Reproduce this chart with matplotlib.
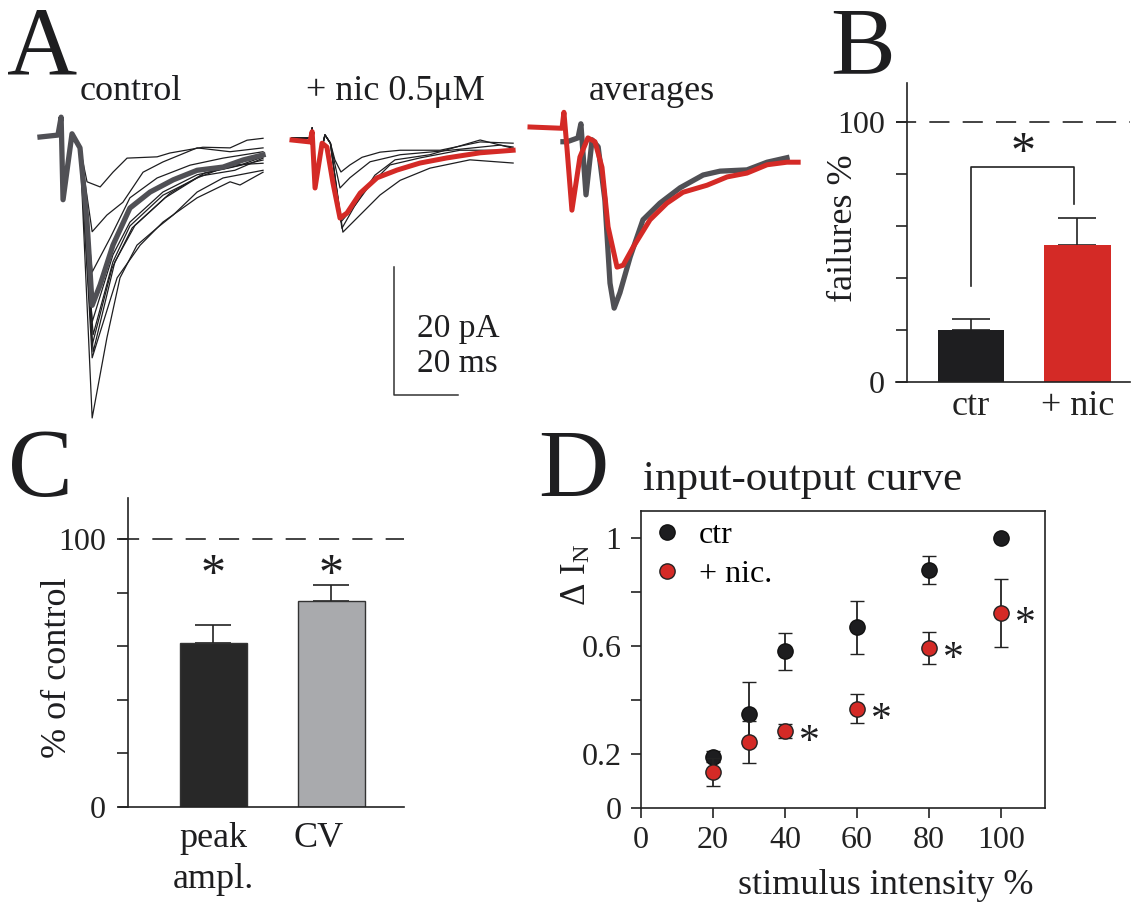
import matplotlib
matplotlib.use('Agg')
import matplotlib.pyplot as plt
from matplotlib.lines import Line2D

plt.rcParams['font.family'] = ['Liberation Serif', 'DejaVu Serif']
plt.rcParams['mathtext.fontset'] = 'stix'
plt.rcParams['lines.scale_dashes'] = False

# ======================= DATA =======================
# ---- Panel A: sweeps, time (ms) and current (pA) relative to sweep start / baseline
CTRL_ONSET_T = [0.0, 5.6, 6.6, 7.2, 10.0, 12.5]
CTRL_ONSET_I = [0.0, 0.3, 3.1, -9.8, 0.5, -1.7]
CTRL_SWEEPS_T = [
    [14.7, 18.8, 22.8, 27.2, 36.6, 40.6, 50.9, 59.4, 64.7, 69.7],
    [16.3, 20.9, 25.9, 32.2, 38.4, 49.1, 59.4, 69.7],
    [16.3, 21.9, 28.1, 36.6, 46.9, 57.2, 69.7],
    [16.3, 22.8, 28.1, 38.4, 49.1, 59.4, 69.7],
    [16.6, 22.8, 28.1, 38.4, 49.1, 59.4, 69.7],
    [16.3, 22.5, 28.8, 39.1, 50.0, 60.9, 69.7],
    [16.6, 23.4, 29.7, 40.6, 51.6, 62.5, 69.7],
    [16.3, 24.1, 31.3, 38.4, 49.1, 59.4, 62.5, 69.7],
    [16.3, 20.9, 25.0, 30.3, 36.6, 41.6, 49.1, 57.2, 69.7],
]
CTRL_SWEEPS_I = [
    [-7.0, -7.8, -5.5, -3.3, -3.1, -2.5, -1.6, -1.7, -0.5, -0.2],
    [-14.8, -12.2, -10.2, -5.5, -3.9, -1.7, -2.3, -1.7],
    [-21.1, -15.8, -9.5, -6.4, -4.4, -3.3, -2.3],
    [-28.9, -18.4, -13.3, -8.6, -5.9, -4.8, -3.6],
    [-30.9, -19.5, -13.9, -9.1, -6.4, -4.4, -4.1],
    [-32.5, -20.5, -14.2, -9.5, -6.1, -5.2, -3.3],
    [-33.6, -19.5, -13.8, -8.8, -5.6, -4.4, -3.1],
    [-34.5, -22.0, -16.9, -13.3, -9.5, -7.0, -7.5, -5.5],
    [-43.9, -31.4, -22.0, -16.9, -14.2, -12.2, -8.6, -6.4, -5.2],
]
CTRL_MEAN_T = [0.0, 5.6, 6.6, 7.2, 10.0, 12.5, 14.7, 16.3, 18.8, 22.8, 28.1,
               34.4, 41.6, 49.1, 57.2, 63.4, 69.7]
CTRL_MEAN_I = [0.0, 0.3, 3.1, -9.8, 0.5, -1.7, -13.3, -26.3, -23.1, -16.9, -11.1,
               -8.6, -6.7, -5.2, -4.7, -3.6, -2.8]

NIC_ONSET_T = [0.0, 5.6, 6.3, 7.2, 10.3, 12.0]
NIC_ONSET_I = [0.3, 0.3, 1.9, -6.0, 0.8, -0.5]
NIC_SWEEPS_T = [
    [13.4, 15.3, 18.1, 21.9, 27.5, 33.8, 46.3, 58.8, 69.1],
    [15.0, 18.1, 24.4, 33.8, 49.4, 65.0, 69.1],
    [15.3, 19.7, 24.4, 30.6, 40.0, 52.5, 69.1],
    [15.9, 21.3, 27.5, 33.8, 43.1, 55.6, 69.1],
    [15.6, 19.7, 25.9, 32.2, 43.1, 58.8, 69.1],
]
NIC_SWEEPS_I = [
    [-3.1, -5.0, -3.9, -2.7, -1.9, -1.6, -1.6, -0.3, -0.5],
    [-7.5, -5.9, -3.4, -2.3, -1.6, -0.8, -1.1],
    [-12.8, -10.2, -7.0, -3.9, -2.8, -1.6, -1.6],
    [-14.4, -11.7, -8.6, -6.3, -4.4, -3.1, -3.6],
    [-13.8, -10.2, -5.5, -3.1, -2.3, 0.0, -1.3],
]
NIC_MEAN_T = [0.0, 5.6, 6.3, 7.2, 9.4, 10.9, 12.8, 15.0, 17.2, 21.3, 26.6, 32.8,
              40.0, 48.4, 58.8, 69.1]
NIC_MEAN_I = [0.0, -0.3, 1.3, -7.5, -0.5, -1.1, -6.7, -12.2, -11.4, -8.3, -5.9, -4.7,
              -3.6, -2.8, -2.0, -1.6]

AVG_CTRL_T = [10.3, 11.6, 15.0, 15.9, 17.5, 19.4, 21.3, 23.4, 25.0, 26.3, 28.1, 31.3,
              35.3, 40.6, 46.9, 54.1, 59.4, 67.8, 74.1, 80.3]
AVG_CTRL_I = [-2.3, -2.3, -1.7, 0.5, -10.6, -2.0, -3.1, -11.4, -24.4, -28.3, -25.9, -20.3,
              -14.5, -11.9, -9.5, -7.5, -6.9, -6.7, -5.5, -4.8]
AVG_NIC_T = [0.0, 10.0, 10.6, 11.6, 13.1, 15.6, 18.1, 20.3, 22.5, 24.4, 27.2, 29.1,
             32.2, 37.5, 42.8, 47.8, 55.3, 61.6, 67.8, 74.1, 80.3, 83.8]
AVG_NIC_I = [0.0, -0.2, 2.3, -3.6, -13.0, -4.7, -1.7, -2.3, -6.3, -15.6, -21.9, -21.6,
             -18.8, -14.5, -11.9, -10.2, -9.1, -7.8, -7.2, -5.9, -5.5, -5.5]

PANEL_A_TITLES = ['control', '+ nic 0.5\u03bcM', 'averages']
SCALE_PA = 20
SCALE_MS = 20

# ---- Panel B: failures %
B_CATS = ['ctr', '+ nic']
B_VALS = [20.0, 52.7]
B_ERR = [4.1, 10.4]

# ---- Panel C: % of control
C_CATS = ['peak\nampl.', 'CV']
C_VALS = [61.2, 76.9]
C_ERR = [6.7, 6.0]

# ---- Panel D: input-output curve
D_X = [20, 30, 40, 60, 80, 100]
D_CTR = [0.19, 0.35, 0.58, 0.67, 0.88, 1.0]
D_CTR_ERR = [0.02, 0.115, 0.068, 0.098, 0.052, 0.0]
D_NIC = [0.133, 0.245, 0.285, 0.367, 0.593, 0.722]
D_NIC_ERR = [0.052, 0.078, 0.025, 0.054, 0.06, 0.127]
D_SIG_X = [40, 60, 80, 100]
D_SIG_Y = [0.285, 0.367, 0.593, 0.722]

# ======================= STYLE / LAYOUT =======================
W, H = 1136, 908
BLACK = '#1e1e20'
RED = '#d42a26'
GRAY_TRACE = '#505055'
GRAY_BAR = '#a9aaad'
LABEL_FS = 26
TICK_FS = 23
LETTER_FS = 70

fig = plt.figure(figsize=(W / 100, H / 100), dpi=100)


def fx(px):
    return px / W


def fy(py):
    return 1 - py / H


def rect(x0, y0, x1, y1):
    return [x0 / W, 1 - y1 / H, (x1 - x0) / W, (y1 - y0) / H]


def star(ax, x, y, fs):
    ax.annotate('*', xy=(x, y), xytext=(0, -0.47 * fs), textcoords='offset points',
                ha='center', va='baseline', fontsize=fs, color=BLACK)


# ---------------- Panel A ----------------
PX_PER_MS = 3.2
PX_PER_PA = 6.4
axA = fig.add_axes(rect(0, 100, 830, 430))
axA.set_xlim(0, 830 / PX_PER_MS)
axA.set_ylim(-430 / PX_PER_PA, -100 / PX_PER_PA)
axA.axis('off')


def place(t, i, origin):
    x0 = origin[0] / PX_PER_MS
    y0 = -origin[1] / PX_PER_PA
    return [x0 + v for v in t], [y0 + v for v in i]


CTRL_ORIGIN = (40, 137)
NIC_ORIGIN = (292, 140)
AVG_ORIGIN = (530, 127)

for t, i in zip(CTRL_SWEEPS_T, CTRL_SWEEPS_I):
    xx, yy = place(CTRL_ONSET_T + t, CTRL_ONSET_I + i, CTRL_ORIGIN)
    axA.plot(xx, yy, color=BLACK, lw=0.9, zorder=2)
xx, yy = place(CTRL_MEAN_T, CTRL_MEAN_I, CTRL_ORIGIN)
axA.plot(xx, yy, color=GRAY_TRACE, lw=3.8, zorder=3, solid_joinstyle='round')

for t, i in zip(NIC_SWEEPS_T, NIC_SWEEPS_I):
    xx, yy = place(NIC_ONSET_T + t, NIC_ONSET_I + i, NIC_ORIGIN)
    axA.plot(xx, yy, color=BLACK, lw=0.9, zorder=2)
xx, yy = place(NIC_MEAN_T, NIC_MEAN_I, NIC_ORIGIN)
axA.plot(xx, yy, color=RED, lw=3.6, zorder=3, solid_joinstyle='round')

xx, yy = place(AVG_CTRL_T, AVG_CTRL_I, AVG_ORIGIN)
axA.plot(xx, yy, color=GRAY_TRACE, lw=3.8, zorder=2, solid_joinstyle='round')
xx, yy = place(AVG_NIC_T, AVG_NIC_I, AVG_ORIGIN)
axA.plot(xx, yy, color=RED, lw=3.6, zorder=3, solid_joinstyle='round')

# scale bar
sb_x = 394 / PX_PER_MS
sb_y = -395 / PX_PER_PA
axA.plot([sb_x, sb_x, sb_x + SCALE_MS], [sb_y + SCALE_PA, sb_y, sb_y], color='#333333', lw=1.1)
fig.text(fx(417), fy(337), f'{SCALE_PA} pA', fontsize=24, ha='left', va='baseline', color=BLACK)
fig.text(fx(417), fy(372), f'{SCALE_MS} ms', fontsize=24, ha='left', va='baseline', color=BLACK)

for txt, cx in zip(PANEL_A_TITLES, [131, 395, 652]):
    fig.text(fx(cx), fy(100), txt, fontsize=LABEL_FS, ha='center', va='baseline', color=BLACK)

# panel letters
fig.text(fx(7), fy(73), 'A', fontsize=LETTER_FS, ha='left', va='baseline', color=BLACK)
fig.text(fx(830), fy(74), 'B', fontsize=LETTER_FS, ha='left', va='baseline', color=BLACK)
fig.text(fx(8), fy(496), 'C', fontsize=LETTER_FS, ha='left', va='baseline', color=BLACK)
fig.text(fx(538), fy(497), 'D', fontsize=LETTER_FS, ha='left', va='baseline', color=BLACK)


def style_bar_axes(ax, left_spine_x):
    for s in ['top', 'right']:
        ax.spines[s].set_visible(False)
    ax.spines['left'].set_position(('data', left_spine_x))
    for s in ['left', 'bottom']:
        ax.spines[s].set_linewidth(1.2)
        ax.spines[s].set_color('#222222')
    ax.set_yticks([0, 20, 40, 60, 80, 100], ['0', '', '', '', '', '100'])
    ax.tick_params(axis='y', direction='out', length=8, width=1.2, pad=8,
                   labelsize=TICK_FS, colors='#222222')
    ax.tick_params(axis='x', length=0, pad=6, labelsize=LABEL_FS, colors='#222222')
    ax.set_facecolor('none')


# ---------------- Panel B ----------------
axB = fig.add_axes(rect(896, 83, 1130, 382))
xB = [0, 1]
axB.errorbar(xB, B_VALS, yerr=[[0, 0], B_ERR], fmt='none', ecolor='#222222',
             elinewidth=1.2, capsize=13.5, capthick=1.2, zorder=1)
axB.bar(xB, B_VALS, width=0.62, color=[BLACK, RED], edgecolor='none', zorder=2)
axB.set_xlim(-0.704, 1.493)
axB.set_ylim(0, 115)
style_bar_axes(axB, -0.601)
axB.set_xticks(xB, B_CATS)
axB.axhline(100, color='#222222', lw=1.2, dashes=(14.5, 9.5), clip_on=False)
axB.plot([0.0, 0.0, 0.97, 0.97], [36.9, 82.7, 82.7, 68.5], color='#222222', lw=1.2)
star(axB, 0.49, 92.3, 36)
fig.text(fx(843), fy(228), 'failures %', fontsize=LABEL_FS, rotation=90,
         ha='center', va='center', color=BLACK)

# ---------------- Panel C ----------------
axC = fig.add_axes(rect(119, 498, 404, 807))
xC = [0, 1]
axC.errorbar(xC, C_VALS, yerr=[[0, 0], C_ERR], fmt='none', ecolor='#222222',
             elinewidth=1.2, capsize=13, capthick=1.2, zorder=1)
axC.bar(xC, C_VALS, width=0.57, color=['#282828', GRAY_BAR], edgecolor='#333333',
        linewidth=1.0, zorder=2)
axC.set_xlim(-0.804, 1.621)
axC.set_ylim(0, 115.3)
style_bar_axes(axC, -0.728)
axC.set_xticks([])
axC.axhline(100, color='#222222', lw=1.2, dashes=(14.5, 9.5), clip_on=False)
for xv in xC:
    star(axC, xv, 90.5, 36)
c_lines = C_CATS[0].split('\n')
fig.text(fx(213), fy(847), c_lines[0], fontsize=LABEL_FS, ha='center', va='baseline', color=BLACK)
fig.text(fx(213), fy(888), c_lines[1], fontsize=LABEL_FS, ha='center', va='baseline', color=BLACK)
fig.text(fx(319), fy(847), C_CATS[1], fontsize=LABEL_FS, ha='center', va='baseline', color=BLACK)
fig.text(fx(57), fy(668), '% of control', fontsize=LABEL_FS, rotation=90,
         ha='center', va='center', color=BLACK)

# ---------------- Panel D ----------------
axD = fig.add_axes(rect(641, 511, 1045, 808))
axD.errorbar(D_X, D_CTR, yerr=D_CTR_ERR, fmt='o', ms=11, mfc='#1d1d1f', mec='#111111',
             mew=1.0, ecolor='#222222', elinewidth=1.3, capsize=5, capthick=1.3, zorder=3)
axD.errorbar(D_X, D_NIC, yerr=D_NIC_ERR, fmt='o', ms=11, mfc=RED, mec='#222222',
             mew=1.0, ecolor='#222222', elinewidth=1.3, capsize=5, capthick=1.3, zorder=4)
for xs, ys in zip(D_SIG_X, D_SIG_Y):
    star(axD, xs + 6.8, ys - 0.01, 30)
axD.set_xlim(0, 112.2)
axD.set_ylim(0, 1.1)
axD.set_xticks([0, 20, 40, 60, 80, 100])
axD.set_yticks([0, 0.2, 0.4, 0.6, 0.8, 1.0], ['0', '0.2', '', '0.6', '', '1'])
axD.tick_params(axis='both', direction='out', length=7, width=1.2, labelsize=TICK_FS,
                colors='#222222')
axD.tick_params(axis='y', pad=7)
axD.tick_params(axis='x', pad=6)
for s in axD.spines.values():
    s.set_linewidth(1.2)
    s.set_color('#222222')
handles = [Line2D([], [], ls='none', marker='o', ms=11, mfc='#1d1d1f', mec='#111111', mew=1.0),
           Line2D([], [], ls='none', marker='o', ms=11, mfc=RED, mec='#222222', mew=1.0)]
axD.legend(handles, ['ctr', '+ nic.'], loc='upper left', bbox_to_anchor=(0, 1),
           frameon=False, fontsize=TICK_FS, handlelength=1.0, handletextpad=0.5,
           labelspacing=0.3, borderpad=0.31, borderaxespad=0)
fig.text(fx(643), fy(490), 'input-output curve', fontsize=31, ha='left', va='baseline', color=BLACK)
fig.text(fx(886), fy(894), 'stimulus intensity %', fontsize=LABEL_FS, ha='center',
         va='baseline', color=BLACK)
fig.text(fx(577), fy(575), '\u0394 I$_\\mathregular{N}$', fontsize=25, rotation=90,
         ha='center', va='center', color=BLACK)

fig.savefig('out.png', dpi=100)
